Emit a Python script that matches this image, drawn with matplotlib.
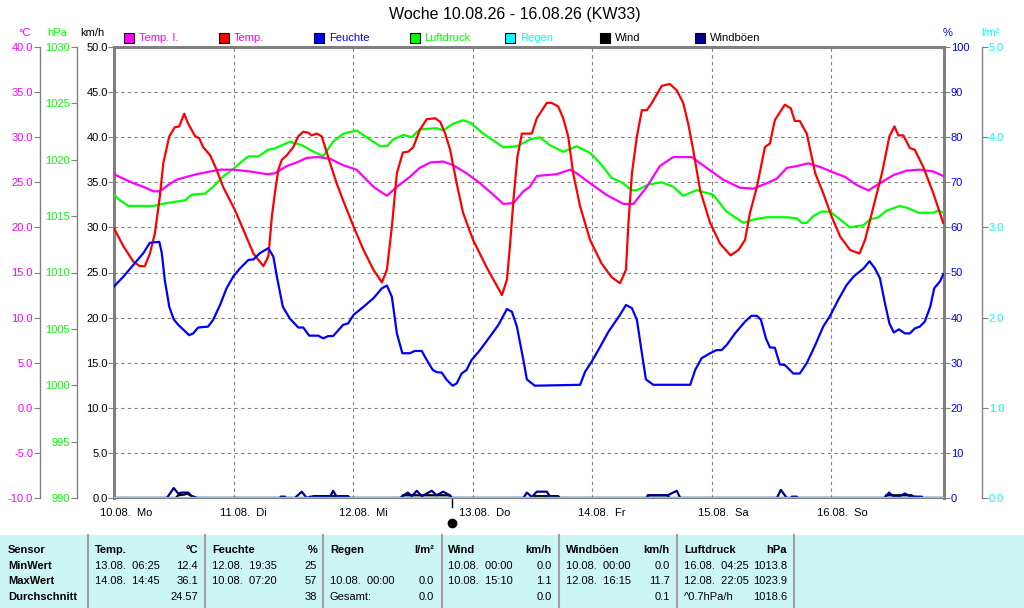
import matplotlib
matplotlib.use('Agg')
import numpy as np
import matplotlib.pyplot as plt
import matplotlib.transforms as mtransforms
from matplotlib.patches import Rectangle
from matplotlib.lines import Line2D

plt.rcParams['font.family'] = ['Liberation Sans', 'DejaVu Sans']

# ---- data (hours since 10.08. 00:00) ----
t_end = 166.6
day_h = [0, 24, 48, 72, 96, 120, 144]
day_labels = ['10.08.  Mo', '11.08.  Di', '12.08.  Mi', '13.08.  Do',
              '14.08.  Fr', '15.08.  Sa', '16.08.  So']

temp_h = [0, 1.9, 3.9, 5.2, 6.2, 7.2, 8.2, 9.2, 9.9, 11.1,
          12.2, 13.1, 14.1, 14.9, 16.3, 17.1, 17.9, 19.3, 20.6, 21.9,
          24.3, 26.0, 28.0, 30.0, 31.0, 31.7, 32.3, 33.0, 33.7, 34.7,
          36.0, 37.0, 38.0, 39.0, 39.7, 40.7, 41.7, 42.4, 43.4, 44.7,
          46.0, 48.1, 50.1, 52.1, 53.8, 54.8, 55.8, 56.8, 58.0, 59.1,
          60.1, 61.4, 62.8, 64.5, 65.5, 66.5, 67.5, 68.8, 70.1, 72.1,
          74.8, 77.9, 78.9, 79.5, 80.2, 81.0, 81.9, 83.9, 84.9, 86.9,
          87.9, 89.2, 90.2, 91.2, 92.2, 93.6, 95.6, 97.9, 99.9, 101.6,
          102.8, 103.3, 104.0, 105.0, 106.0, 107.0, 108.0, 110.0, 111.6, 113.0,
          114.3, 115.3, 116.3, 117.7, 119.7, 121.7, 123.8, 125.4, 126.7, 127.7,
          129.1, 130.7, 131.7, 132.7, 134.7, 135.9, 136.7, 137.7, 139.1, 140.8,
          142.4, 144.1, 145.8, 147.8, 149.7, 150.8, 152.5, 154.2, 155.7, 156.7,
          157.5, 158.5, 159.8, 160.8, 162.5, 164.5, 166.5]
temp_c = [19.9, 17.9, 16.2, 15.7, 15.7, 17.1, 19.3, 23.4, 27.1, 30.1,
          31.1, 31.2, 32.6, 31.5, 30.1, 29.9, 28.9, 28.0, 26.4, 24.5,
          21.9, 19.7, 17.1, 15.7, 16.8, 21.2, 23.8, 26.4, 27.5, 28.0,
          28.9, 30.1, 30.6, 30.5, 30.2, 30.4, 30.1, 28.9, 27.1, 24.9,
          23.0, 20.1, 17.5, 15.3, 13.9, 15.3, 20.1, 26.0, 28.3, 28.4,
          28.9, 30.8, 32.0, 32.1, 31.7, 30.4, 28.6, 24.9, 21.6, 18.6,
          15.6, 12.5, 14.2, 17.9, 23.0, 27.8, 30.4, 30.4, 32.1, 33.8,
          33.8, 33.4, 32.1, 30.1, 26.0, 22.3, 18.6, 16.0, 14.5, 13.8,
          15.3, 20.5, 26.0, 30.1, 33.0, 33.0, 33.8, 35.7, 35.9, 35.2,
          33.8, 31.5, 28.6, 24.1, 20.5, 18.2, 16.9, 17.5, 18.6, 21.6,
          24.5, 28.9, 29.3, 31.9, 33.6, 33.2, 31.8, 31.8, 30.4, 26.0,
          23.8, 21.2, 19.0, 17.5, 17.1, 18.6, 22.3, 26.0, 30.1, 31.2,
          30.2, 30.2, 28.8, 28.6, 26.7, 23.8, 20.5]

itemp_h = [0, 1.9, 3.9, 5.9, 7.9, 9.2, 10.9, 12.6, 14.6, 16.6,
           19.3, 21.3, 24.0, 27.3, 30.7, 32.3, 34.7, 36.7, 38.7, 41.0,
           43.4, 46.0, 48.7, 52.1, 54.8, 56.8, 59.4, 61.4, 63.5, 66.1,
           68.1, 70.8, 73.5, 76.2, 78.2, 80.2, 82.2, 83.5, 84.9, 86.9,
           88.9, 91.6, 92.9, 95.6, 98.9, 102.3, 104.3, 107.0, 109.6, 112.3,
           116.0, 119.0, 122.3, 125.7, 128.4, 131.1, 133.1, 135.1, 137.1, 139.4,
           141.8, 144.4, 146.8, 149.1, 151.5, 153.8, 156.5, 159.2, 161.8, 164.5, 166.5]
itemp_c = [25.9, 25.4, 24.9, 24.5, 24.0, 24.0, 24.7, 25.3, 25.6, 25.9,
           26.2, 26.4, 26.4, 26.2, 25.9, 26.0, 26.8, 27.2, 27.7, 27.8,
           27.6, 26.9, 26.4, 24.5, 23.5, 24.5, 25.6, 26.6, 27.2, 27.3,
           26.9, 26.0, 24.9, 23.6, 22.6, 22.7, 24.0, 24.5, 25.7, 25.8,
           25.9, 26.4, 26.0, 24.9, 23.6, 22.6, 22.6, 24.5, 26.8, 27.8,
           27.8, 26.6, 25.3, 24.4, 24.3, 24.9, 25.4, 26.6, 26.8, 27.1,
           26.7, 26.1, 25.6, 24.7, 24.1, 24.9, 25.8, 26.3, 26.4, 26.2, 25.7]

press_h = [0, 1.2, 2.9, 7.9, 9.9, 12.6, 14.3, 15.6, 18.3, 19.9,
           21.9, 24.0, 25.3, 27.0, 29.0, 31.0, 32.3, 35.3, 37.7, 39.7,
           42.0, 44.0, 46.0, 48.7, 51.4, 53.4, 54.8, 56.1, 58.1, 59.8,
           61.4, 64.8, 66.1, 68.1, 70.1, 71.5, 74.2, 78.2, 80.9, 83.5,
           85.5, 87.5, 90.2, 92.9, 95.6, 97.6, 99.9, 101.9, 104.0, 105.0,
           107.3, 110.0, 112.3, 114.3, 117.0, 120.3, 123.0, 126.4, 128.4, 131.1,
           135.1, 137.1, 138.1, 139.1, 140.4, 142.1, 143.8, 145.8, 147.8, 150.5,
           151.8, 153.5, 155.2, 157.8, 159.5, 161.5, 164.5, 165.5, 166.5]
press_hpa = [1016.9, 1016.4, 1015.9, 1015.9, 1016.1, 1016.3, 1016.4, 1016.9, 1017.0, 1017.6,
             1018.5, 1019.2, 1019.7, 1020.3, 1020.3, 1020.9, 1021.0, 1021.6, 1021.3, 1020.8,
             1020.3, 1021.6, 1022.3, 1022.6, 1021.8, 1021.2, 1021.2, 1021.8, 1022.2, 1022.0,
             1022.7, 1022.8, 1022.6, 1023.2, 1023.5, 1023.3, 1022.3, 1021.1, 1021.2, 1021.8,
             1022.0, 1021.3, 1020.7, 1021.2, 1020.6, 1019.7, 1018.4, 1018.0, 1017.3, 1017.3,
             1017.8, 1018.0, 1017.6, 1016.8, 1017.3, 1016.9, 1015.4, 1014.4, 1014.7, 1014.9,
             1014.9, 1014.8, 1014.4, 1014.4, 1015.0, 1015.4, 1015.4, 1014.7, 1014.0, 1014.2,
             1014.7, 1014.9, 1015.5, 1015.9, 1015.7, 1015.3, 1015.3, 1015.5, 1015.3]

hum_h = [0, 1.9, 3.9, 5.9, 7.2, 9.1, 9.6, 10.2, 11.1, 12.0,
         12.9, 15.1, 15.9, 16.9, 18.9, 19.9, 21.3, 22.6, 24.0, 25.3,
         27.0, 28.0, 29.3, 31.0, 32.0, 32.7, 33.9, 35.3, 37.0, 38.0,
         39.2, 41.0, 42.0, 43.0, 44.0, 46.0, 47.0, 48.1, 50.1, 52.1,
         53.8, 54.8, 55.8, 56.8, 57.9, 59.4, 60.4, 61.8, 62.8, 64.0,
         64.8, 65.8, 66.8, 68.0, 68.8, 69.8, 70.8, 71.8, 73.5, 75.5,
         77.2, 78.9, 79.9, 80.9,
         82.2, 82.9, 84.5, 93.6, 94.6, 95.9, 97.6, 99.3, 101.6, 102.8,
         104.0, 105.0, 106.0, 106.8, 108.3, 115.7, 116.7, 118.0, 119.7, 121.0,
         122.0, 123.0, 124.7, 126.7, 128.0, 129.1, 129.9, 130.9, 131.7, 132.7,
         133.7, 134.7, 136.4, 137.7, 139.1, 140.8, 142.4, 143.8, 145.4, 147.1,
         148.5, 150.5, 151.7, 152.8, 153.8, 154.8, 155.7, 156.6, 157.6, 158.8,
         159.8, 160.8, 161.8, 162.8, 163.9, 164.7, 165.9, 166.5]
hum_pct = [46.9, 49.1, 51.7, 54.3, 56.6, 56.8, 54.3, 48.3, 42.4, 39.6,
           38.4, 36.1, 36.5, 37.8, 38.0, 39.5, 42.8, 46.5, 49.2, 50.9,
           52.8, 52.9, 54.3, 55.4, 53.5, 49.1, 42.4, 39.8, 37.8, 37.8,
           36.0, 36.0, 35.4, 35.9, 35.9, 38.4, 38.7, 40.6, 42.4, 44.3,
           46.5, 47.1, 44.6, 36.5, 32.1, 32.1, 32.6, 32.6, 30.6, 28.4,
           27.9, 27.8, 26.2, 24.9, 25.4, 27.6, 28.4, 30.6, 32.8, 35.8,
           38.4, 41.9, 41.3, 38.0,
           30.6, 26.3, 24.9, 25.1, 28.0, 30.2, 33.5, 36.9, 40.6, 42.8,
           42.1, 39.5, 32.1, 26.3, 25.1, 25.1, 28.4, 31.0, 32.1, 32.8,
           32.8, 33.9, 36.5, 39.1, 40.4, 40.4, 39.5, 35.4, 33.4, 33.3,
           29.6, 29.5, 27.6, 27.6, 29.9, 33.9, 38.0, 40.4, 43.9, 47.2,
           49.1, 50.9, 52.5, 50.9, 48.7, 43.2, 38.7, 36.7, 37.4, 36.5,
           36.5, 37.6, 38.0, 39.1, 42.4, 46.5, 48.1, 49.6]

rain_h = [0, 166.6]
rain_l = [0.0, 0.0]

wind_h = [0, 12.4, 12.9, 14.3, 14.7, 15.3, 16.6, 39.8, 40.0, 47.0,
          47.4, 57.8, 58.0, 67.5, 67.8, 84.3, 84.5, 89.2, 89.5, 107.0,
          107.2, 111.2, 111.5, 154.8, 155.0, 160.2, 160.5, 166.6]
wind_kmh = [0, 0, 0.3, 0.4, 0.5, 0.3, 0, 0, 0.2, 0.2,
            0, 0, 0.3, 0.3, 0, 0, 0.2, 0.2, 0, 0,
            0.3, 0.3, 0, 0, 0.3, 0.3, 0, 0]

gust_h = [0, 10.6, 12.0, 12.9, 13.6, 14.9, 15.6, 16.6, 33.3, 33.5,
          34.3, 34.5, 36.3, 37.7, 38.7, 39.4, 43.4, 44.0, 44.7, 47.0,
          47.3, 57.4, 59.0, 59.8, 60.8, 61.8, 63.8, 64.8, 66.1, 67.1,
          67.8, 82.2, 82.9, 83.9, 84.9, 86.9, 87.6, 89.2, 107.0, 107.2,
          111.2, 113.0, 113.7, 133.1, 133.9, 135.1, 136.0, 136.1, 137.1, 137.2,
          154.8, 155.6, 156.5, 157.8, 158.8, 159.8, 161.2, 162.2, 162.4, 166.6]
gust_kmh = [0, 0, 1.1, 0.5, 0.6, 0.6, 0.2, 0, 0, 0.15,
            0.15, 0, 0, 0.7, 0, 0.15, 0.15, 0.8, 0.15, 0.15,
            0, 0, 0.6, 0.2, 0.8, 0.2, 0.8, 0.3, 0.7, 0.4,
            0, 0, 0.6, 0.1, 0.7, 0.7, 0.1, 0, 0, 0.3,
            0.3, 0.8, 0, 0, 0.9, 0, 0, 0.15, 0.15, 0,
            0, 0.6, 0.2, 0.2, 0.5, 0.2, 0.15, 0.15, 0, 0]

marker_h = 67.9

# table
row_labels = ['Sensor', 'MinWert', 'MaxWert', 'Durchschnitt']
tab_head = ['Temp.', 'Feuchte', 'Regen', 'Wind', 'Windböen', 'Luftdruck']
tab_unit = ['°C', '%', 'l/m²', 'km/h', 'km/h', 'hPa']
min_time = ['13.08.  06:25', '12.08.  19:35', '', '10.08.  00:00', '10.08.  00:00', '16.08.  04:25']
min_val = ['12.4', '25', '', '0.0', '0.0', '1013.8']
max_time = ['14.08.  14:45', '10.08.  07:20', '10.08.  00:00', '10.08.  15:10', '12.08.  16:15', '12.08.  22:05']
max_val = ['36.1', '57', '0.0', '1.1', '11.7', '1023.9']
avg_text = ['', '', 'Gesamt:', '', '', '^0.7hPa/h']
avg_val = ['24.57', '38', '0.0', '0.0', '0.1', '1018.6']

MAG = '#ff00ff'
RED = '#ff0000'
BLUE = '#0000ff'
GREEN = '#00ff00'
CYAN = '#00ffff'
NAVY = '#000090'
GRAY = '#808080'

W, H = 1024, 608
fig = plt.figure(figsize=(W / 100, H / 100), dpi=100)


def fx(px):
    return px / W


def fy(py):
    return 1 - py / H


ax = fig.add_axes([fx(114), fy(498), 829.7 / W, 451 / H])
ax.set_xlim(0, t_end)
ax.set_ylim(0, 50)
ax.set_yticks(np.arange(0, 51, 5))
ax.set_yticklabels(['%.1f' % v for v in np.arange(0, 51, 5)])
ax.set_xticks(day_h)
ax.set_xticklabels([])
ax.tick_params(axis='x', length=0)
ax.tick_params(axis='y', length=4, width=0.8, color=GRAY, pad=0.5, labelsize=8)
ax.grid(True, color=GRAY, linestyle=(0, (3, 3)), linewidth=0.8)
for s in ax.spines.values():
    s.set_color(GRAY)
    s.set_linewidth(2.2)
ax.spines['bottom'].set_linewidth(1.5)


def make_twin(side, offset, lo, hi, ticks, fmt, color):
    a = ax.twinx()
    for s in a.spines.values():
        s.set_visible(False)
    a.set_ylim(lo, hi)
    a.set_yticks(ticks)
    a.set_yticklabels([fmt % v for v in ticks])
    if side == 'left':
        a.yaxis.tick_left()
    else:
        a.yaxis.tick_right()
    if offset is not None:
        a.spines[side].set_visible(True)
        a.spines[side].set_position(('outward', offset))
        a.spines[side].set_color(GRAY)
        a.spines[side].set_linewidth(1.0)
    a.tick_params(axis='y', length=4, width=0.8, color=GRAY, pad=1,
                  labelsize=8, labelcolor=color)
    return a


ax_p = make_twin('left', 26.6, 990, 1030, np.arange(990, 1031, 5), '%d', GREEN)
ax_c = make_twin('left', 53.3, -10, 40, np.arange(-10, 41, 5), '%.1f', MAG)
ax_h = make_twin('right', None, 0, 100, np.arange(0, 101, 10), '%d', BLUE)
ax_r = make_twin('right', 27.4, 0, 5, np.arange(0, 6, 1), '%.1f', CYAN)

lw = 1.6
ax.plot(wind_h, wind_kmh, color='black', lw=lw)
ax.plot(gust_h, gust_kmh, color=NAVY, lw=lw)
ax_p.plot(press_h, press_hpa, color=GREEN, lw=lw)
ax_c.plot(itemp_h, itemp_c, color=MAG, lw=lw)
ax_c.plot(temp_h, temp_c, color=RED, lw=lw)
ax_h.plot(hum_h, hum_pct, color=BLUE, lw=lw)
ax_r.plot(rain_h, rain_l, color=CYAN, lw=lw)

# day labels below the axis
trans = mtransforms.blended_transform_factory(ax.transData, ax.transAxes)
lab_tr = mtransforms.offset_copy(trans, fig=fig, x=-14, y=-15, units='dots')
for h, lab in zip(day_h, day_labels):
    ax.text(h, 0, lab, transform=lab_tr, ha='left', va='center', fontsize=8)

# current-time marker
ax.plot([marker_h, marker_h], [0, -0.02], transform=trans, color='black',
        lw=1, clip_on=False)
ax.plot([marker_h], [-0.056], 'o', ms=6, color='black', transform=trans,
        clip_on=False)

# title
fig.text(fx(515), fy(15), 'Woche 10.08.26 - 16.08.26 (KW33)', ha='center',
         va='center', fontsize=11.5)

# unit labels
for txt, px, col in [('°C', 25, MAG), ('hPa', 57, GREEN), ('km/h', 92, 'black'),
                     ('%', 948, BLUE), ('l/m²', 990, CYAN)]:
    fig.text(fx(px), fy(33), txt, ha='center', va='center', fontsize=8, color=col)

# legend row
legend_items = [('Temp. I.', MAG, MAG), ('Temp.', RED, MAG), ('Feuchte', BLUE, BLUE),
                ('Luftdruck', GREEN, GREEN), ('Regen', CYAN, CYAN),
                ('Wind', 'black', 'black'), ('Windböen', NAVY, 'black')]
for i, (lab, box_c, txt_c) in enumerate(legend_items):
    x0 = 124 + i * 95.2
    fig.patches.append(Rectangle((fx(x0), fy(43)), 10 / W, 10 / H,
                                 transform=fig.transFigure, facecolor=box_c,
                                 edgecolor='black', linewidth=0.8))
    fig.text(fx(x0 + 15), fy(38), lab, ha='left', va='center', fontsize=8,
             color=txt_c)

# table at the bottom
fig.patches.append(Rectangle((0, 0), 1, 73 / H, transform=fig.transFigure,
                             facecolor='#ccf6f4', edgecolor='none'))
for sx in [88, 205, 323, 442, 559, 677, 794]:
    fig.add_artist(Line2D([fx(sx), fx(sx)], [fy(535), fy(608)],
                          transform=fig.transFigure, color='#a0a0a0', lw=1.5))

rows_y = [550, 566, 581, 597]
for lab, ry in zip(row_labels, rows_y):
    fig.text(fx(8), fy(ry), lab, ha='left', va='center', fontsize=8,
             fontweight='bold')

col_left = [95, 212, 330, 448, 566, 684]
col_right = [198, 317, 434, 552, 670, 787]
for i in range(6):
    cells = [(tab_head[i], tab_unit[i], 'bold'),
             (min_time[i], min_val[i], 'normal'),
             (max_time[i], max_val[i], 'normal'),
             (avg_text[i], avg_val[i], 'normal')]
    for (lt, rt, wgt), ry in zip(cells, rows_y):
        fig.text(fx(col_left[i]), fy(ry), lt, ha='left', va='center',
                 fontsize=8, fontweight=wgt)
        fig.text(fx(col_right[i]), fy(ry), rt, ha='right', va='center',
                 fontsize=8, fontweight=wgt)

fig.savefig('out.png', dpi=100)
